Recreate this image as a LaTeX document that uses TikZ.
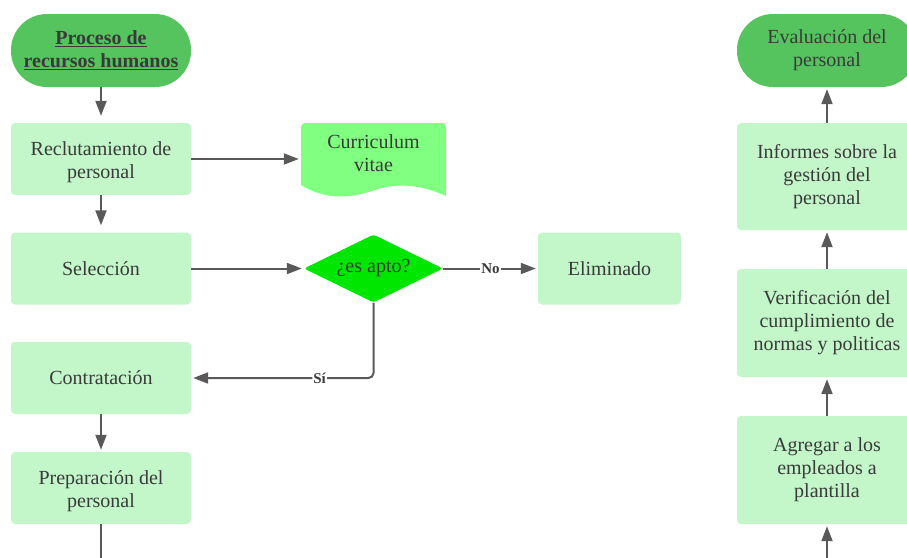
\documentclass[tikz,border=0pt]{standalone}
\usepackage{fontspec}
\setmainfont{Liberation Serif}
\usetikzlibrary{shapes.geometric,arrows.meta}
\definecolor{termgreen}{HTML}{55C45E}
\definecolor{boxgreen}{HTML}{C3F6C9}
\definecolor{docgreen}{HTML}{80FF80}
\definecolor{decgreen}{HTML}{00E600}
\definecolor{txt}{HTML}{3A3A3A}
\definecolor{edge}{HTML}{595959}
% extra room above the first line of a two-line label
\newcommand\headroom{\rule{0pt}{20pt}}

\begin{document}
\begin{tikzpicture}[x=1pt,y=-1pt,
  font=\fontsize{20}{23}\selectfont,
  every node/.style={text=txt, align=center, inner sep=0pt},
  terminal/.style={fill=termgreen, minimum width=180pt, minimum height=73pt, rounded corners=36pt},
  procbox/.style={fill=boxgreen, minimum width=180pt, minimum height=72pt, rounded corners=4pt},
  tallbox/.style={procbox, minimum height=108pt},
  docshape/.style={minimum width=145pt, minimum height=72pt},
  decision/.style={diamond, fill=decgreen, minimum width=139pt, minimum height=68pt, aspect=2, rounded corners=3pt},
  flow/.style={draw=edge, line width=2pt, shorten >=2pt, -{Triangle[length=15pt,width=11pt]}},
  plain/.style={draw=edge, line width=2pt},
  choice/.style={font=\fontsize{15}{18}\selectfont\bfseries, fill=white, inner sep=1pt}
]
\useasboundingbox (0,0) rectangle (907,557);
\clip (0,0) rectangle (907,557);

% left column: recruitment process
\node[terminal, font=\fontsize{20}{23}\selectfont\bfseries] (start) at (101,50.5)
  {\underline{Proceso de}\\\underline{recursos humanos}};
\node[procbox] (recl) at (101,159) {\headroom Reclutamiento de\\personal};
\node[procbox] (sel) at (101,268.5) {Selección};
\node[procbox] (contr) at (101,378) {Contratación};
\node[procbox] (prep) at (101,488) {\headroom Preparación del\\personal};

% document shape with a wavy lower edge
\node[docshape] (cv) at (373.5,159) {};
\fill[docgreen] (301,185) [rounded corners=4pt] -- (301,123) -- (446,123) [sharp corners] -- (446,196)
  .. controls (415,182) and (392,184) .. (372,191)
  .. controls (345,200) and (322,198) .. (301,185) -- cycle;
\node at (373.5,153) {Curriculum\\vitae};

% decision and rejection
\node[decision] (apto) at (373.5,268.5) {¿es apto?};
\node[procbox, minimum width=143pt] (elim) at (609.5,268.5) {Eliminado};

% right column: staff evaluation
\node[terminal] (eval) at (827,50.5) {Evaluación del\\personal};
\node[tallbox, minimum height=107pt] (inf) at (827,176.5) {Informes sobre la\\gestión del\\personal};
\node[tallbox] (verif) at (827,323) {Verificación del\\cumplimiento de\\normas y politicas};
\node[tallbox] (agr) at (827,470) {Agregar a los\\empleados a\\plantilla};

\coordinate (prepout) at (101,565);
\coordinate (agrin) at (827,565);

% connectors
\draw[flow, shorten >=7pt] (start) -- (recl);
\draw[flow] (recl) -- (cv);
\draw[flow, shorten >=7pt] (recl) -- (sel);
\draw[flow] (sel) -- (apto);
\draw[flow] (apto) -- node[choice] {No} (elim);
\draw[flow, rounded corners=5pt] (apto.south) |- node[choice, pos=0.648] {Sí} (contr.east);
\draw[flow] (contr) -- (prep);
\draw[plain] (prep) -- (prepout);

\draw[flow] (agrin) -- (agr);
\draw[flow] (agr) -- (verif);
\draw[flow] (verif) -- (inf);
\draw[flow] (inf) -- (eval);
\end{tikzpicture}
\end{document}
